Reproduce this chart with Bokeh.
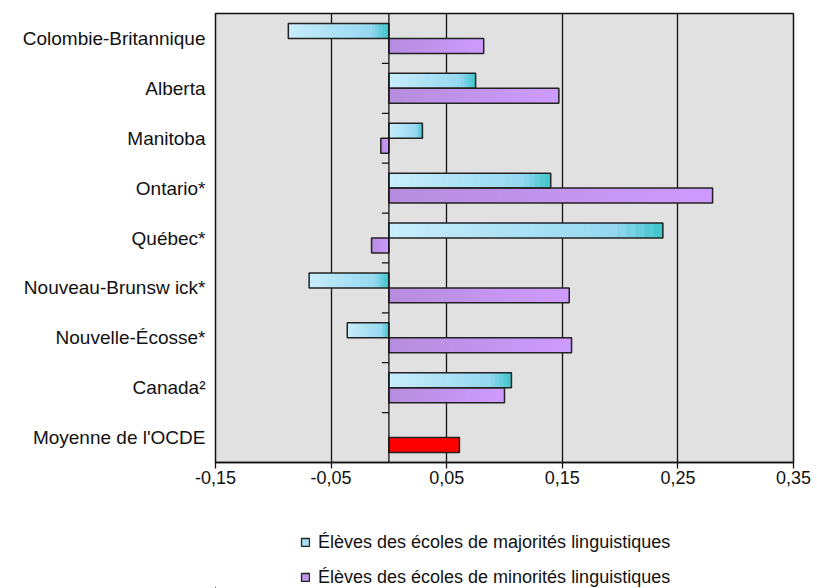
import numpy as np
from bokeh.plotting import figure
from bokeh.layouts import column
from bokeh.models import (Range1d, FixedTicker, Span, Legend, LegendItem, ColumnDataSource)
from bokeh.embed import file_html
from bokeh.resources import INLINE

# ---- data ----
categories = ["Colombie-Britannique", "Alberta", "Manitoba", "Ontario*", "Québec*",
              "Nouveau-Brunsw ick*", "Nouvelle-Écosse*", "Canada²", "Moyenne de l'OCDE"]
majority = [-0.087, 0.075, 0.029, 0.140, 0.237, -0.069, -0.036, 0.106]
minority = [0.082, 0.147, -0.007, 0.280, -0.015, 0.156, 0.158, 0.100]
oecd_mean = [0.061]
x_ticks = [-0.15, -0.05, 0.05, 0.15, 0.25, 0.35]
x_tick_labels = ["-0,15", "-0,05", "0,05", "0,15", "0,25", "0,35"]
legend_labels = ["Élèves des écoles de majorités linguistiques",
                 "Élèves des écoles de minorités linguistiques"]

FONT = "Liberation Sans"
n = len(categories)
centers = [n - 0.5 - i for i in range(n)]
boundaries = [float(b) for b in range(1, n)]

W = 817
H_MAIN = 500
H_LEG = 88
FRAME_LEFT = 215

p = figure(width=W, height=H_MAIN, output_backend="svg", toolbar_location=None,
           x_range=Range1d(-0.15, 0.35), y_range=Range1d(0, n),
           min_border_left=FRAME_LEFT, min_border_right=W - 793, min_border_top=13,
           min_border_bottom=H_MAIN - 462)
p.background_fill_color = "#e1e1e1"
p.border_fill_color = "white"
p.outline_line_color = "#111111"
p.outline_line_width = 1.5

# grid
p.ygrid.visible = False
p.xgrid.ticker = FixedTicker(ticks=x_ticks)
p.xgrid.grid_line_color = "#111111"
p.xgrid.grid_line_width = 1.3


def hexrgb(h):
    return np.array([int(h[i:i + 2], 16) for i in (1, 3, 5)], dtype=float)


def grad_color(stops, t):
    for (t0, c0), (t1, c1) in zip(stops[:-1], stops[1:]):
        if t <= t1:
            f = (t - t0) / (t1 - t0) if t1 > t0 else 0
            c = hexrgb(c0) * (1 - f) + hexrgb(c1) * f
            return "#%02x%02x%02x" % tuple(int(round(v)) for v in c)
    return stops[-1][1]


MAJ_STOPS = [(0.0, "#c9edfb"), (0.82, "#95d8f0"), (1.0, "#3cc4cb")]
MIN_STOPS = [(0.0, "#b68ddd"), (1.0, "#cd9bfe")]
NSL = 30


def gradient_source(values, ys, stops):
    # overlapping slices: each slice runs from its start to the bar end,
    # later (right-hand) slices are painted over earlier ones -> no seams
    y, l, r, c = [], [], [], []
    for v, yy in zip(values, ys):
        lo, hi = min(0.0, v), max(0.0, v)
        for k in range(NSL):
            y.append(yy)
            l.append(lo + (hi - lo) * k / NSL)
            r.append(hi)
            c.append(grad_color(stops, (k + 0.5) / NSL))
    return ColumnDataSource(dict(y=y, left=l, right=r, color=c))


maj_y = [c + 0.15 for c in centers[:len(majority)]]
min_y = [c - 0.15 for c in centers[:len(minority)]]

p.hbar(y="y", left="left", right="right", height=0.3, fill_color="color",
       line_color=None, source=gradient_source(majority, maj_y, MAJ_STOPS))
p.hbar(y="y", left="left", right="right", height=0.3, fill_color="color",
       line_color=None, source=gradient_source(minority, min_y, MIN_STOPS))

# zero line
p.add_layout(Span(location=0, dimension="height", line_color="#111111", line_width=1.3))

# bar outlines
p.hbar(y=maj_y, left=0, right=majority, height=0.3, fill_color=None,
       line_color="#222222", line_width=1.5)
p.hbar(y=min_y, left=0, right=minority, height=0.3, fill_color=None,
       line_color="#222222", line_width=1.5)
p.hbar(y=[centers[-1] - 0.15], left=0, right=oecd_mean, height=0.3,
       fill_color="#ff0000", line_color="#222222", line_width=1.5)

# category boundary ticks on the zero line
p.ray(x=[0] * len(boundaries), y=boundaries, length=7, length_units="screen",
      angle=np.pi, line_color="#111111", line_width=1.3)

# x axis
xa = p.xaxis[0]
xa.ticker = FixedTicker(ticks=x_ticks)
xa.major_label_overrides = {t: l for t, l in zip(x_ticks, x_tick_labels)}
xa.major_tick_in = 0
xa.major_tick_out = 6
xa.minor_tick_line_color = None
xa.axis_line_color = "#111111"
xa.axis_line_width = 1.5
xa.major_tick_line_color = "#111111"
xa.major_tick_line_width = 1.3
xa.major_label_text_font = FONT
xa.major_label_text_font_size = "18px"
xa.major_label_text_color = "#111111"
xa.major_label_standoff = 2

# y axis
ya = p.yaxis[0]
ya.ticker = FixedTicker(ticks=centers)
ya.major_label_overrides = {c: l for c, l in zip(centers, categories)}
ya.major_tick_line_color = None
ya.major_tick_in = 0
ya.major_tick_out = 0
ya.minor_tick_line_color = None
ya.axis_line_color = None
ya.major_label_text_font = FONT
ya.major_label_text_font_size = "19px"
ya.major_label_text_color = "#111111"
ya.major_label_standoff = 10

# ---- legend figure (frame aligned with the main frame by the column layout) ----
q = figure(width=W, height=H_LEG, output_backend="svg", toolbar_location=None,
           x_range=Range1d(100, 101), y_range=Range1d(100, 101),
           min_border_left=FRAME_LEFT, min_border_right=W - 793,
           min_border_top=0, min_border_bottom=0)
q.axis.visible = False
q.grid.visible = False
q.outline_line_color = None
q.background_fill_color = "white"
# proxies carrying the series style (zero-size, far outside this view)
r_leg1 = q.hbar(y=maj_y, left=majority, right=majority, height=0, fill_color="#a8def2",
                line_color="#222222", line_width=1.3)
r_leg2 = q.hbar(y=min_y, left=minority, right=minority, height=0, fill_color="#c295ec",
                line_color="#222222", line_width=1.3)
legend = Legend(items=[LegendItem(label=legend_labels[0], renderers=[r_leg1]),
                       LegendItem(label=legend_labels[1], renderers=[r_leg2])],
                location=(300 - FRAME_LEFT, 0), orientation="vertical",
                glyph_width=10, glyph_height=10, label_height=22, spacing=13,
                label_standoff=8, padding=0, margin=0,
                border_line_color=None, background_fill_alpha=0,
                label_text_font=FONT, label_text_font_size="18px", label_text_color="#111111")
q.add_layout(legend, "center")

open("out.html", "w").write(file_html(column(p, q), INLINE))
